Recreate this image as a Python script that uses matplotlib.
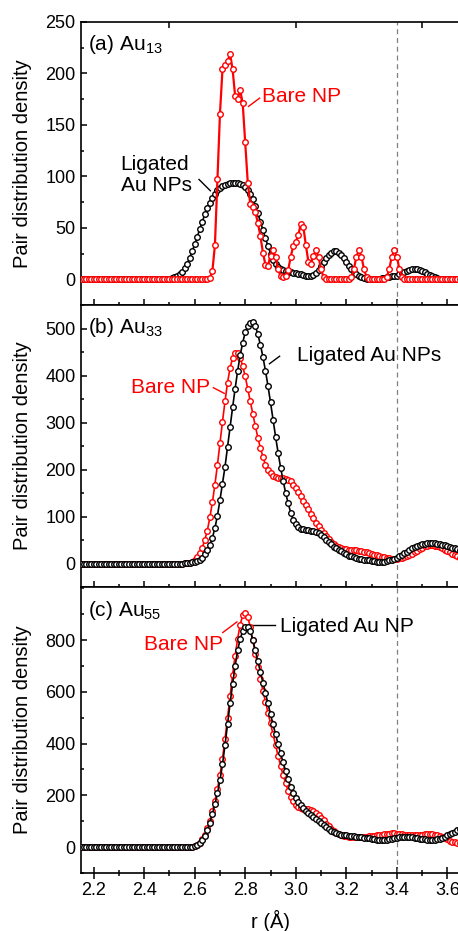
import numpy as np
import matplotlib
matplotlib.use("Agg")
from matplotlib import pyplot as plt
from matplotlib.ticker import MultipleLocator, FixedLocator

plt.rcParams['font.family'] = ['Liberation Sans', 'DejaVu Sans']
plt.rcParams['mathtext.default'] = 'regular'

# r grid (Angstrom), step 0.01 from 2.15 to 3.65
r = np.round(np.arange(2.15, 3.6551, 0.01), 2)

# (a) Au13
bare_a = [0] * 51 + [
    1, 8, 33, 97, 161, 204, 208, 212, 219, 204,
    178, 175, 184, 171, 133, 94, 73, 70, 65, 55,
    42, 26, 14, 13, 23, 28, 22, 10, 3, 2,
    3, 9, 22, 32, 36, 43, 54, 51, 33, 17,
    15, 23, 28, 22, 10, 2] + [0] * 10 + [
    2, 10, 22, 28, 22, 10, 2] + [0] * 7 + [
    2, 10, 22, 28, 22, 10, 2] + [0] * 23
lig_a = [0] * 35 + [
    0.5, 1, 2, 3, 5, 7, 11, 15, 21, 27,
    34, 41, 49, 56, 63, 69, 74, 79, 83, 87,
    89, 91, 92, 93, 93.5, 94, 94, 93.5, 93, 92,
    90, 87, 83, 78, 71, 64, 56, 48, 40, 32,
    25, 19, 15, 12, 10, 9, 8, 7.5, 7, 6.5,
    6, 5.5, 5, 4, 3.5, 3, 3, 4, 6, 9,
    13, 17, 21, 24, 26, 27, 27, 26, 24, 21,
    17, 13, 10, 7, 5, 3, 2, 1, 0.5, 0.3,
    0.2, 0.2, 0.3, 0.5, 1, 1.5, 2, 2.5, 3, 3,
    3.5, 5, 6, 7, 8, 9, 9.5, 9.5, 9.5, 9,
    8, 7, 5.5, 4, 3, 2, 1.2, 0.7, 0.3, 0] + [0] * 6

# (b) Au33
bare_b = [0] * 41 + [
    0.5, 1, 2, 4, 8, 14, 22, 34, 50, 70,
    98, 130, 168, 210, 257, 302, 345, 385, 416, 437,
    447, 448, 438, 420, 398, 372, 345, 318, 292, 268,
    246, 227, 210, 200, 192, 186, 183, 182, 182, 181,
    180, 178, 175, 167, 160, 152, 144, 134, 124, 115,
    106, 96, 87, 79, 71, 64, 58, 52, 46, 41,
    37, 35, 33, 31.5, 30.5, 29.5, 29, 28.5, 28, 27,
    26, 25, 23.5, 22, 20.5, 19, 17.5, 16, 14.5, 13,
    12, 11, 10.5, 10.5, 10.5, 11, 12, 13.5, 15.5, 18,
    21, 24, 27.5, 31, 34, 36.5, 38, 39, 39, 38,
    36.5, 34.5, 32, 29.5, 27, 24, 21, 18, 15, 12]
lig_b = [0] * 41 + [
    1, 1.5, 2, 3, 4, 5, 7, 12, 20, 29,
    39, 55, 75, 102, 135, 170, 206, 248, 290, 332,
    372, 410, 443, 470, 492, 505, 512, 513, 505, 488,
    465, 440, 410, 378, 343, 306, 270, 236, 204, 176,
    150, 128, 108, 93, 83, 77, 74, 73, 72, 71,
    70, 69, 67, 64, 60, 56, 51, 46, 41, 36,
    32, 29, 26, 23, 20, 17, 15, 13, 11.5, 10.5,
    9.5, 8.5, 7.5, 6.5, 5.5, 4.5, 4, 3.5, 3.5, 4,
    5, 6.5, 8, 10, 12, 15, 18.5, 22, 25.5, 29,
    32, 35, 37.5, 39.5, 41, 42.5, 43.5, 44, 44, 43.5,
    42.5, 41.5, 40, 38.5, 37, 35, 33.5, 32, 30, 28.5]

# (c) Au55
bare_c = [0] * 43 + [
    0.5, 1.5, 4, 9, 17, 30, 48, 72, 102, 138,
    178, 224, 278, 342, 418, 500, 585, 665, 740, 805,
    860, 895, 906, 890, 850, 800, 748, 697, 650, 605,
    562, 520, 478, 436, 394, 353, 314, 278, 246, 218,
    195, 177, 164, 155, 150, 148, 147, 146, 144, 140,
    133, 124, 114, 103, 91, 80, 70, 62, 56, 51,
    47, 44, 42, 41, 40, 40, 40, 40, 40, 40.5,
    41, 42, 43, 44, 45, 46.5, 48, 49.5, 51, 52,
    53, 53, 52.5, 51.5, 50, 48.5, 47, 46, 45.5, 45.5,
    46, 47, 48, 49, 49.5, 49.5, 49, 48, 46, 43,
    39, 35, 30, 25, 21, 18, 16, 15]
lig_c = [0] * 43 + [
    0.5, 1, 3, 7, 14, 26, 43, 66, 95, 128,
    165, 208, 258, 320, 395, 475, 555, 630, 700, 760,
    805, 835, 850, 852, 835, 800, 760, 718, 677, 636,
    596, 555, 514, 474, 436, 398, 362, 327, 294, 262,
    233, 210, 190, 175, 162, 150, 140, 131, 123, 115,
    107, 100, 93, 85, 77, 69, 62, 57, 53, 50,
    48, 46, 45, 44, 43, 42, 41, 40, 38, 37,
    35, 34, 32, 30, 28.5, 27.5, 27, 27, 28, 30,
    32, 34.5, 37, 39, 40, 40.5, 40.5, 40, 38.5, 37,
    35, 33, 31, 29.5, 28, 27, 27, 28, 30, 33,
    37, 41, 45, 50, 55, 60, 65, 70]

panel_labels = ['(a) Au$_{13}$', '(b) Au$_{33}$', '(c) Au$_{55}$']
ylims = [(-25, 250), (-50, 550), (-100, 1005)]
yticks = [[0, 50, 100, 150, 200, 250], [0, 100, 200, 300, 400, 500],
          [0, 200, 400, 600, 800]]
yminor = [25, 50, 100]
xticks = [2.2, 2.4, 2.6, 2.8, 3.0, 3.2, 3.4, 3.6]

W, H = 458, 931
fig = plt.figure(figsize=(W / 100, H / 100), dpi=100)

left = 81 / W
right = 460 / W
edges = [22, 305, 587, 873]  # pixel rows of the panel borders
axes = []
for i in range(3):
    bot = 1 - edges[i + 1] / H
    top = 1 - edges[i] / H
    ax = fig.add_axes([left, bot, right - left, top - bot])
    axes.append(ax)

red = '#ff0000'
mk = dict(marker='o', markersize=4.0, markerfacecolor='white', markeredgewidth=1.0)

ax = axes[0]
ax.plot(r, lig_a, color='black', lw=1.2, zorder=3, **mk)
ax.plot(r, bare_a, color=red, lw=1.6, zorder=4, **mk)
ax = axes[1]
ax.plot(r, bare_b, color=red, lw=1.2, zorder=3, **mk)
ax.plot(r, lig_b, color='black', lw=1.2, zorder=4, **mk)
ax = axes[2]
ax.plot(r, bare_c, color=red, lw=1.2, zorder=3, **mk)
ax.plot(r, lig_c, color='black', lw=1.2, zorder=4, **mk)

for i, ax in enumerate(axes):
    ax.set_xlim(2.15, 3.65)
    ax.set_ylim(*ylims[i])
    ax.axvline(3.4, color='#808080', lw=0.9, ls=(0, (4, 3)), zorder=2)
    ax.yaxis.set_major_locator(FixedLocator(yticks[i]))
    ax.yaxis.set_minor_locator(MultipleLocator(yminor[i]))
    ax.xaxis.set_major_locator(FixedLocator(xticks))
    ax.xaxis.set_minor_locator(MultipleLocator(0.1))
    ax.tick_params(axis='y', which='major', direction='in', length=4, width=1.1,
                   labelsize=13, pad=4)
    ax.tick_params(axis='y', which='minor', direction='in', length=2.5, width=1.1)
    ax.tick_params(axis='x', which='major', direction='inout', length=8, width=1.1,
                   labelsize=13, pad=2.5)
    ax.tick_params(axis='x', which='minor', direction='inout', length=4.5, width=1.1)
    for sp in ax.spines.values():
        sp.set_linewidth(1.2)
    ax.set_ylabel('Pair distribution density', fontsize=14.5)
    ax.yaxis.set_label_coords(-0.13, 0.5)
    ax.text(0.018, 0.90, panel_labels[i], transform=ax.transAxes,
            fontsize=15, va='baseline', ha='left')
    if i < 2:
        ax.tick_params(axis='x', labelbottom=False)
    else:
        ax.set_xticklabels(['%.1f' % t for t in xticks])

# top ticks of the first panel
sec = axes[0].secondary_xaxis('top')
sec.set_xticks([2.5, 3.0, 3.5])
sec.tick_params(direction='in', length=4, width=1.1, labeltop=False)
sec.spines['top'].set_visible(False)

axes[2].set_xlabel('r (Å)', fontsize=14.5, labelpad=8)

# annotations
ax = axes[0]
ax.text(2.867, 178, 'Bare NP', color=red, fontsize=15, va='center', ha='left')
ax.plot([2.813, 2.857], [168, 176], color=red, lw=1)
ax.text(2.307, 101, 'Ligated\nAu NPs', color='black', fontsize=15, va='center',
        ha='left', linespacing=1.15)
ax.plot([2.617, 2.662], [97, 86], color='black', lw=1)

ax = axes[1]
ax.text(3.005, 443, 'Ligated Au NPs', color='black', fontsize=15, va='center', ha='left')
ax.plot([2.896, 2.936], [425, 441], color='black', lw=1)
ax.text(2.661, 374, 'Bare NP', color=red, fontsize=15, va='center', ha='right')
ax.plot([2.674, 2.717], [374, 362], color=red, lw=1)

ax = axes[2]
ax.text(2.936, 854, 'Ligated Au NP', color='black', fontsize=15, va='center', ha='left')
ax.plot([2.826, 2.919], [857, 857], color='black', lw=1)
ax.text(2.711, 783, 'Bare NP', color=red, fontsize=15, va='center', ha='right')
ax.plot([2.711, 2.767], [829, 870], color=red, lw=1)

fig.savefig('out.png', dpi=100)
